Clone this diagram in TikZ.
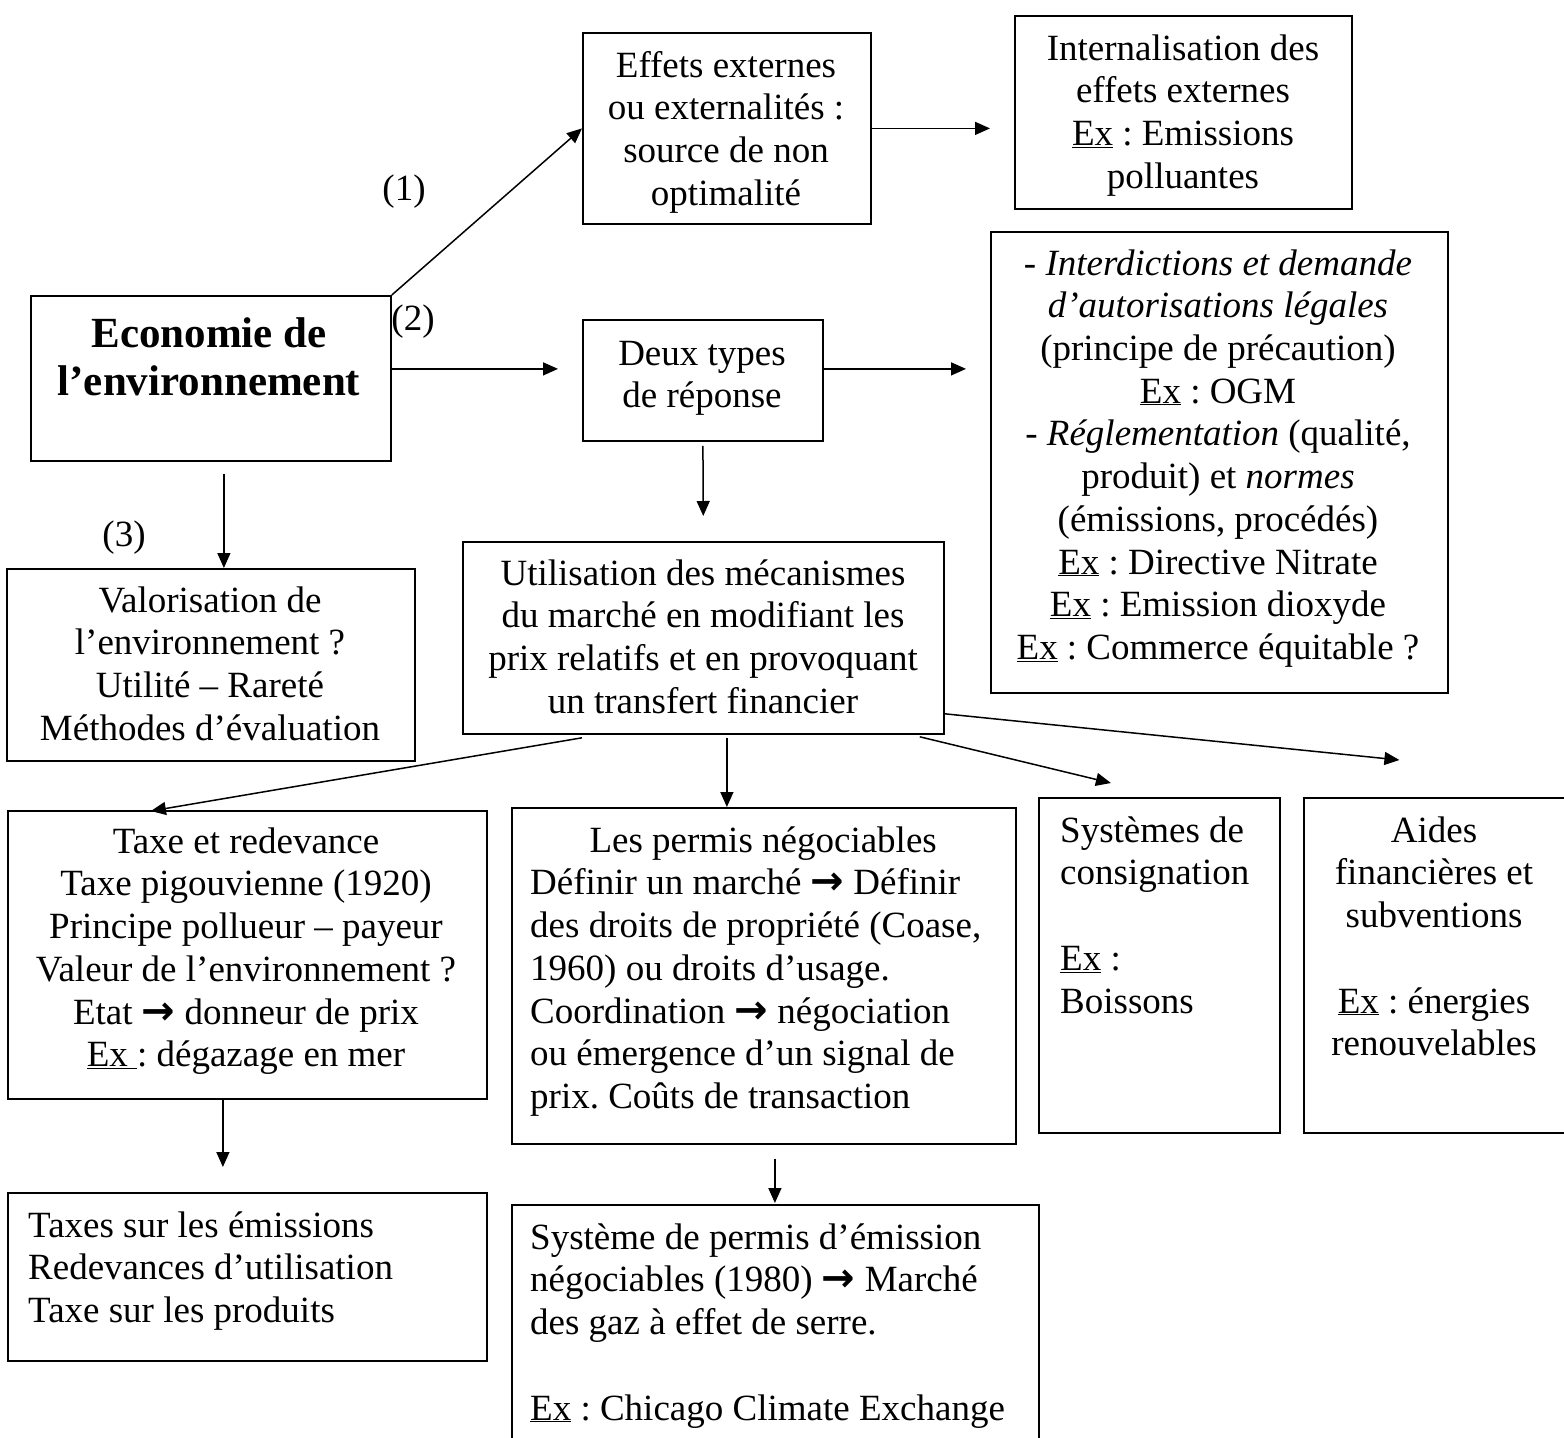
\documentclass[tikz,border=0pt]{standalone}
\usepackage{fontspec}
\setmainfont{Liberation Serif}
\newfontfamily\symfont{DejaVu Sans}
\usetikzlibrary{arrows.meta,calc}
\frenchspacing
\newcommand{\myfs}{\fontsize{37}{42.7}\selectfont\frenchspacing}
\newcommand{\mybf}{\fontsize{43}{48}\selectfont\bfseries}
\newcommand{\myarr}{{\symfont\bfseries\fontsize{40}{42.7}\selectfont →}}
\newcommand{\exu}{\underline{Ex}}
\begin{document}
\begin{tikzpicture}[x=1pt,y=-1pt,
  box/.style={draw, line width=1.8pt, inner sep=0pt, anchor=north west},
  txt/.style={inner sep=0pt, font=\myfs, align=center, anchor=north},
  ltxt/.style={inner sep=0pt, font=\myfs, align=left, anchor=north west},
  arr/.style={line width=1.5pt, -{Triangle[length=15pt,width=13pt]}}]
\useasboundingbox (0,0) rectangle (1564,1438);
\clip (0,0) rectangle (1564,1438);

% boxes
\node[box, minimum width=360pt, minimum height=165pt] (eco) at (30,295) {};
\node[box, minimum width=288pt, minimum height=191pt] (effets) at (582,32) {};
\node[box, minimum width=337pt, minimum height=193pt] (intern) at (1014,15) {};
\node[box, minimum width=457pt, minimum height=461pt] (interd) at (990,231) {};
\node[box, minimum width=240pt, minimum height=121pt] (deux) at (582,319) {};
\node[box, minimum width=408pt, minimum height=192pt] (valor) at (6,568) {};
\node[box, minimum width=481pt, minimum height=192pt] (util) at (462,541) {};
\node[box, minimum width=479pt, minimum height=288pt] (taxe) at (7,810) {};
\node[box, minimum width=504pt, minimum height=336pt] (permis) at (511,807) {};
\node[box, minimum width=241pt, minimum height=335pt] (syst) at (1038,797) {};
\node[box, minimum width=263pt, minimum height=335pt] (aides) at (1303,797) {};
\node[box, minimum width=479pt, minimum height=168pt] (taxes) at (7,1192) {};
\node[box, minimum width=527pt, minimum height=260pt] (systeme) at (511,1204) {};

% texts
\node[txt, font=\mybf, align=center] (tEco) at (209,313.4) {\strut Economie de\\ l’environnement};
\node[txt] (tEffets) at (726,47.1) {\strut Effets externes\\ ou externalités :\\ source de non\\ optimalité};
\node[txt] (tIntern) at (1183,30.1) {\strut Internalisation des\\ effets externes\\ \exu{} : Emissions\\ polluantes};
\node[txt] (tInterd) at (1218,245.1) {\strut - \textit{Interdictions et demande}\\ \textit{d’autorisations légales}\\ (principe de précaution)\\ \exu{} : OGM\\ - \textit{Réglementation} (qualité,\\ produit) et \textit{normes}\\ (émissions, procédés)\\ \exu{} : Directive Nitrate\\ \exu{} : Emission dioxyde\\ \exu{} : Commerce équitable ?};
\node[txt] (tDeux) at (702,335.1) {\strut Deux types\\ de réponse};
\node[txt] (tValor) at (210,582.1) {\strut Valorisation de\\ l’environnement ?\\ Utilité – Rareté\\ Méthodes d’évaluation};
\node[txt] (tUtil) at (703,555.1) {\strut Utilisation des mécanismes\\ du marché en modifiant les\\ prix relatifs et en provoquant\\ un transfert financier};
\node[txt] (tTaxe) at (246,823.1) {\strut Taxe et redevance\\ Taxe pigouvienne (1920)\\ Principe pollueur – payeur\\ Valeur de l’environnement ?\\ Etat \myarr{} donneur de prix\\ \underline{Ex\ }: dégazage en mer};
\node[ltxt] (tPermis) at (530,822.1) {\makebox[466pt][c]{\strut Les permis négociables}\\ Définir un marché \myarr{} Définir\\ des droits de propriété (Coase,\\ 1960) ou droits d’usage.\\ Coordination \myarr{} négociation\\ ou émergence d’un signal de\\ prix. Coûts de transaction};
\node[ltxt] (tSyst) at (1060,812.1) {\strut Systèmes de\\ consignation\\ \mbox{}\\ \exu{} :\\ Boissons};
\node[txt] (tAides) at (1434,812.1) {\strut Aides\\ financières et\\ subventions\\ \mbox{}\\ \exu{} : énergies\\ renouvelables};
\node[ltxt] (tTaxes) at (28,1207.1) {\strut Taxes sur les émissions\\ Redevances d’utilisation\\ Taxe sur les produits};
\node[ltxt] (tSysteme) at (530,1219.1) {\strut Système de permis d’émission\\ négociables (1980) \myarr{} Marché\\ des gaz à effet de serre.\\ \mbox{}\\ \exu{} : Chicago Climate Exchange};

% labels
\node[txt] (l1) at (404,170.1) {\strut (1)};
\node[txt] (l2) at (413,300.1) {\strut (2)};
\node[txt] (l3) at (124,516.1) {\strut (3)};

% connectors
\draw[arr] (eco.north east) -- (effets.west);
\draw[arr, shorten >=24pt] (effets.east) -- (intern.west |- effets.east);
\draw[arr, shorten >=24pt] ($(eco.east)+(0,-9.5)$) -- ($(deux.west)+(0,-11.5)$);
\draw[arr, shorten >=24pt] ($(deux.east)+(0,-11.5)$) -- ($(interd.west |- deux.east)+(0,-11.5)$);
\draw[arr, shorten <=4pt, shorten >=25pt] (deux.south) -- (util.north);
\draw[arr, shorten <=12pt] ($(eco.south)+(13,0)$) -- ($(valor.north)+(13,0)$);
\draw[arr] ($(util.south)+(-121.5,3)$) -- ($(taxe.north)+(-96.5,1)$);
\draw[arr] ($(util.south)+(23.5,3)$) -- ($(permis.north)+(-37,0)$);
\draw[arr] ($(util.south east)+(-25,2)$) -- ($(syst.north)+(-48.5,-14)$);
\draw[arr] ($(util.south east)+(0,-21)$) -- ($(aides.north)+(-36,-37)$);
\draw[arr] ($(taxe.south)+(-24.5,0)$) -- ($(taxes.north)+(-24.5,-25)$);
\draw[arr] ($(permis.south)+(11,14)$) -- ($(systeme.north)+(-0.5,-1)$);
\end{tikzpicture}
\end{document}
